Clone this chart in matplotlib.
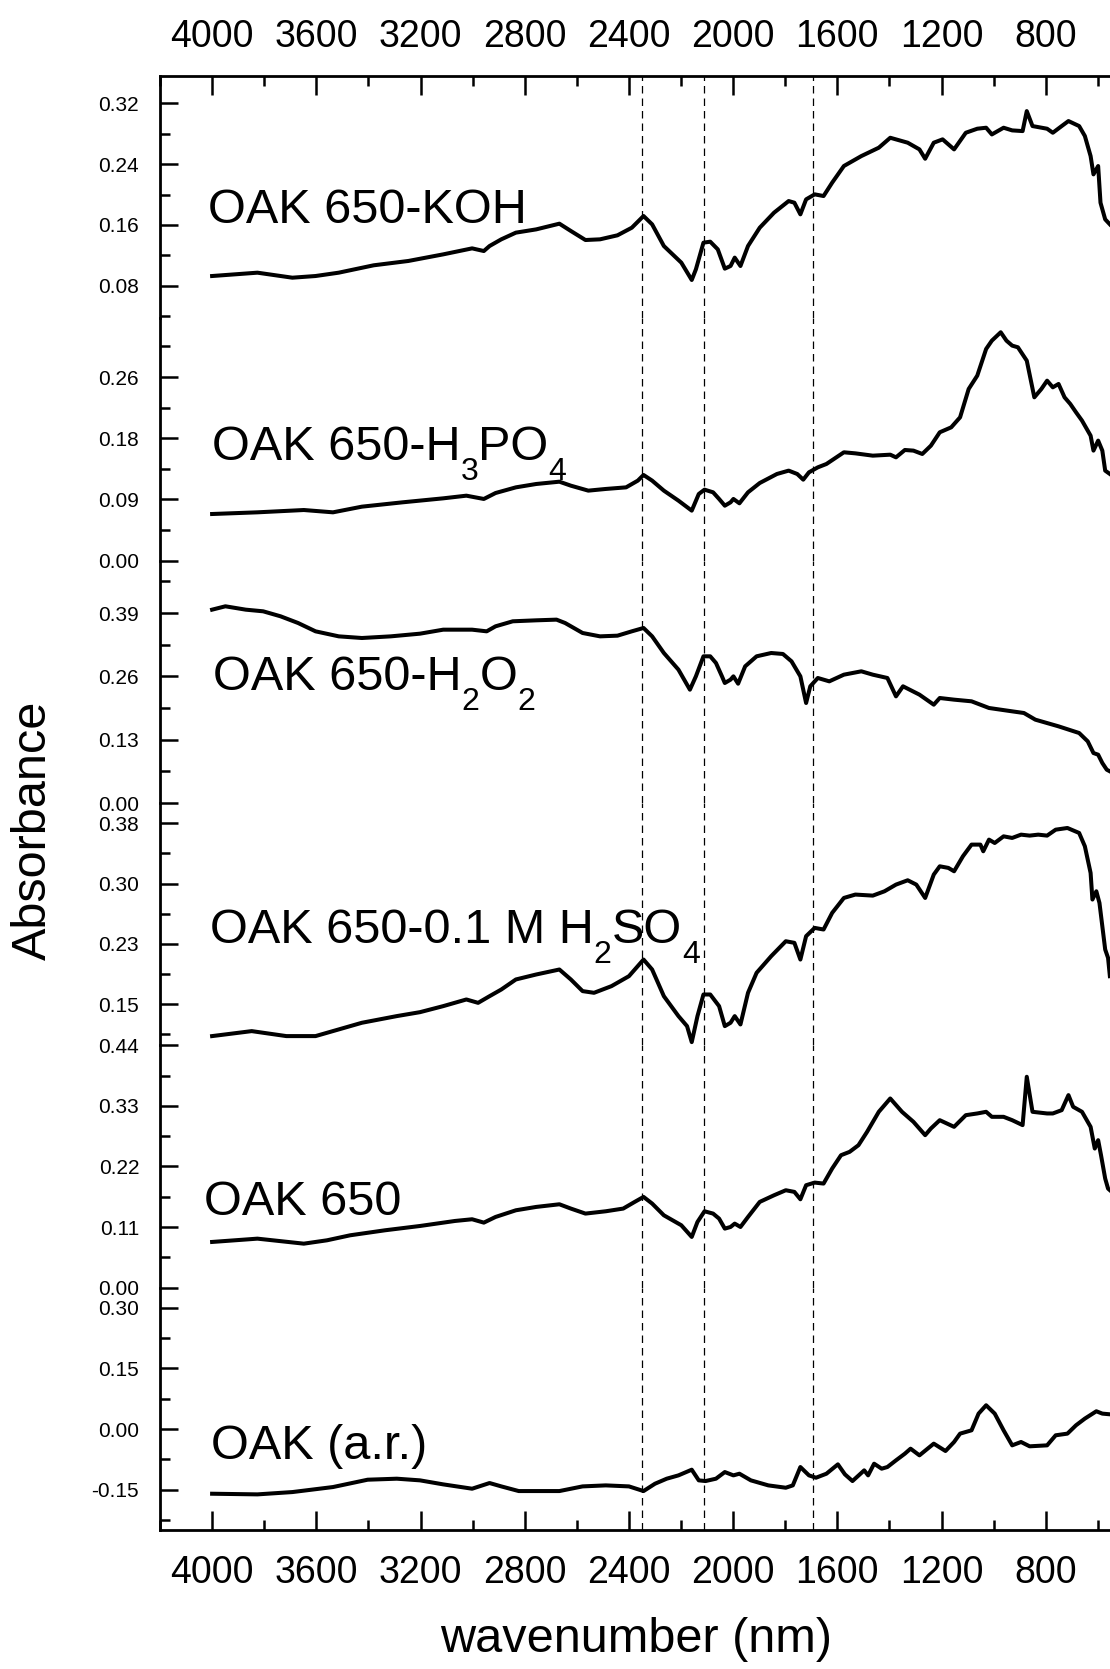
import matplotlib
matplotlib.use("Agg")
import matplotlib.pyplot as plt
from matplotlib.ticker import FixedLocator

plt.rcParams['font.family'] = ['Liberation Sans', 'DejaVu Sans']

# ---- spectra (wavenumber, absorbance) ----
w_koh = [4000, 3826, 3692, 3603, 3514, 3380, 3247, 3113, 3002, 2957,
         2935, 2890, 2834, 2756, 2667, 2623, 2567, 2511, 2444, 2389,
         2344, 2311, 2266, 2199, 2159, 2143, 2114, 2088, 2059, 2032,
         2010, 1994, 1972, 1943, 1898, 1843, 1787, 1765, 1742, 1720,
         1687, 1653, 1620, 1575, 1508, 1441, 1397, 1330, 1285, 1263,
         1230, 1196, 1152, 1107, 1063, 1029, 1007, 962, 929, 889,
         873, 851, 795, 773, 739, 713, 672, 650, 628, 617,
         599, 590, 572, 554]
a_koh = [0.0927, 0.0971, 0.0905, 0.0927, 0.0971, 0.1068, 0.1125, 0.1212, 0.1291, 0.1256,
         0.1322, 0.1410, 0.1498, 0.1541, 0.1616, 0.1520, 0.1401, 0.1410, 0.1463, 0.1563,
         0.1717, 0.1607, 0.1322, 0.1103, 0.0875, 0.1015, 0.1366, 0.1379, 0.1278, 0.1024,
         0.1059, 0.1169, 0.1059, 0.1322, 0.1563, 0.1761, 0.1914, 0.1892, 0.1739, 0.1936,
         0.2002, 0.1980, 0.2156, 0.2375, 0.2506, 0.2616, 0.2747, 0.2682, 0.2594, 0.2471,
         0.2682, 0.2726, 0.2594, 0.2813, 0.2866, 0.2879, 0.2791, 0.2879, 0.2844, 0.2835,
         0.3098, 0.2901, 0.2866, 0.2813, 0.2901, 0.2967, 0.2901, 0.2770, 0.2506, 0.2265,
         0.2375, 0.1892, 0.1673, 0.1607]

w_h3po4 = [4000, 3826, 3648, 3536, 3425, 3269, 3113, 3024, 2957, 2912,
           2834, 2756, 2667, 2623, 2556, 2489, 2411, 2366, 2344, 2311,
           2266, 2210, 2159, 2132, 2110, 2077, 2054, 2032, 2010, 1999,
           1976, 1943, 1898, 1832, 1787, 1754, 1731, 1709, 1675, 1642,
           1575, 1531, 1464, 1397, 1375, 1341, 1308, 1274, 1241, 1207,
           1163, 1129, 1096, 1063, 1029, 1007, 973, 951, 929, 907,
           873, 844, 817, 795, 773, 751, 728, 706, 684, 661,
           628, 617, 599, 583, 572, 554]
a_h3po4 = [0.0667, 0.0691, 0.0724, 0.0691, 0.0772, 0.0834, 0.0891, 0.0929, 0.0882, 0.0967,
           0.1048, 0.1096, 0.1129, 0.1072, 0.1001, 0.1025, 0.1048, 0.1144, 0.1225, 0.1144,
           0.1001, 0.0858, 0.0715, 0.0953, 0.1015, 0.0977, 0.0882, 0.0786, 0.0834, 0.0882,
           0.0820, 0.0977, 0.1110, 0.1239, 0.1287, 0.1239, 0.1158, 0.1263, 0.1334, 0.1382,
           0.1549, 0.1534, 0.1501, 0.1515, 0.1477, 0.1582, 0.1573, 0.1525, 0.1644, 0.1835,
           0.1906, 0.2049, 0.2454, 0.2645, 0.3026, 0.3145, 0.3265, 0.3145, 0.3074, 0.3050,
           0.2859, 0.2335, 0.2454, 0.2573, 0.2478, 0.2526, 0.2335, 0.2240, 0.2121, 0.2002,
           0.1787, 0.1573, 0.1716, 0.1573, 0.1287, 0.1239]

w_h2o2 = [4000, 3949, 3871, 3804, 3737, 3670, 3603, 3514, 3425, 3314,
          3202, 3113, 3002, 2946, 2912, 2846, 2756, 2678, 2645, 2578,
          2511, 2444, 2389, 2344, 2311, 2266, 2210, 2166, 2143, 2114,
          2088, 2066, 2043, 2032, 2010, 1999, 1981, 1954, 1910, 1854,
          1809, 1776, 1742, 1720, 1704, 1675, 1631, 1575, 1508, 1464,
          1408, 1375, 1348, 1285, 1230, 1207, 1152, 1085, 1018, 929,
          884, 840, 751, 672, 639, 617, 599, 583, 566, 554]
a_h2o2 = [0.3970, 0.4039, 0.3970, 0.3936, 0.3833, 0.3696, 0.3525, 0.3422, 0.3388, 0.3422,
          0.3477, 0.3559, 0.3559, 0.3525, 0.3628, 0.3731, 0.3751, 0.3765, 0.3696, 0.3491,
          0.3422, 0.3436, 0.3525, 0.3594, 0.3422, 0.3080, 0.2738, 0.2327, 0.2601, 0.3012,
          0.3012, 0.2875, 0.2601, 0.2464, 0.2533, 0.2601, 0.2450, 0.2806, 0.3012, 0.3080,
          0.3060, 0.2909, 0.2601, 0.2053, 0.2396, 0.2567, 0.2498, 0.2635, 0.2704, 0.2635,
          0.2567, 0.2190, 0.2396, 0.2225, 0.2019, 0.2156, 0.2122, 0.2088, 0.1951, 0.1882,
          0.1848, 0.1711, 0.1574, 0.1437, 0.1266, 0.1026, 0.0992, 0.0821, 0.0684, 0.0650]

w_h2so4 = [4000, 3848, 3715, 3603, 3514, 3425, 3291, 3202, 3113, 3024,
           2979, 2935, 2890, 2834, 2756, 2667, 2623, 2578, 2534, 2467,
           2400, 2344, 2311, 2266, 2210, 2177, 2159, 2137, 2114, 2088,
           2054, 2032, 2010, 1994, 1972, 1943, 1910, 1854, 1798, 1765,
           1742, 1720, 1687, 1653, 1620, 1575, 1531, 1464, 1419, 1375,
           1330, 1297, 1263, 1230, 1207, 1174, 1152, 1118, 1085, 1051,
           1040, 1018, 996, 962, 929, 895, 862, 829, 795, 762,
           717, 672, 650, 628, 621, 606, 594, 572, 561, 554]
a_h2so4 = [0.1101, 0.1163, 0.1101, 0.1101, 0.1184, 0.1267, 0.1350, 0.1399, 0.1474, 0.1557,
           0.1515, 0.1598, 0.1681, 0.1806, 0.1868, 0.1930, 0.1806, 0.1661, 0.1640, 0.1723,
           0.1847, 0.2054, 0.1930, 0.1598, 0.1350, 0.1225, 0.1026, 0.1350, 0.1619, 0.1619,
           0.1474, 0.1225, 0.1267, 0.1350, 0.1246, 0.1640, 0.1889, 0.2096, 0.2282, 0.2262,
           0.2054, 0.2345, 0.2448, 0.2428, 0.2635, 0.2821, 0.2863, 0.2850, 0.2904, 0.2987,
           0.3041, 0.2987, 0.2821, 0.3112, 0.3215, 0.3195, 0.3153, 0.3340, 0.3485, 0.3485,
           0.3402, 0.3547, 0.3505, 0.3588, 0.3568, 0.3609, 0.3597, 0.3609, 0.3597, 0.3671,
           0.3692, 0.3630, 0.3464, 0.3132, 0.2801, 0.2904, 0.2759, 0.2179, 0.2075, 0.1847]

w_oak650 = [4000, 3826, 3648, 3559, 3470, 3336, 3202, 3068, 3002, 2957,
            2912, 2834, 2756, 2667, 2623, 2567, 2489, 2422, 2378, 2344,
            2311, 2266, 2199, 2159, 2137, 2110, 2077, 2054, 2032, 2010,
            1994, 1972, 1943, 1898, 1843, 1798, 1765, 1742, 1720, 1687,
            1653, 1620, 1586, 1553, 1519, 1486, 1441, 1397, 1352, 1308,
            1263, 1241, 1207, 1152, 1107, 1063, 1029, 1007, 962, 929,
            889, 873, 851, 795, 773, 739, 713, 695, 661, 628,
            612, 599, 588, 572, 561, 554]
a_oak650 = [0.0830, 0.0890, 0.0799, 0.0860, 0.0951, 0.1042, 0.1120, 0.1211, 0.1242, 0.1181,
            0.1284, 0.1405, 0.1466, 0.1514, 0.1436, 0.1345, 0.1387, 0.1436, 0.1557, 0.1648,
            0.1527, 0.1314, 0.1133, 0.0921, 0.1193, 0.1387, 0.1345, 0.1254, 0.1072, 0.1102,
            0.1163, 0.1102, 0.1284, 0.1557, 0.1678, 0.1769, 0.1739, 0.1605, 0.1860, 0.1908,
            0.1890, 0.2163, 0.2405, 0.2466, 0.2587, 0.2829, 0.3193, 0.3435, 0.3193, 0.3011,
            0.2769, 0.2890, 0.3041, 0.2920, 0.3132, 0.3163, 0.3193, 0.3102, 0.3102, 0.3041,
            0.2951, 0.3829, 0.3193, 0.3163, 0.3163, 0.3223, 0.3496, 0.3284, 0.3193, 0.2920,
            0.2526, 0.2678, 0.2405, 0.1981, 0.1799, 0.1770]

w_raw = [4000, 3826, 3692, 3536, 3403, 3291, 3202, 3113, 3002, 2935,
         2890, 2823, 2667, 2578, 2489, 2400, 2344, 2300, 2255, 2210,
         2159, 2132, 2106, 2066, 2032, 1999, 1976, 1932, 1865, 1798,
         1771, 1742, 1709, 1682, 1642, 1598, 1571, 1542, 1497, 1482,
         1459, 1430, 1408, 1375, 1341, 1319, 1285, 1230, 1185, 1152,
         1129, 1085, 1058, 1029, 996, 962, 929, 895, 862, 795,
         762, 717, 684, 650, 606, 583, 554]
a_raw = [-0.1595, -0.1611, -0.1554, -0.1430, -0.1249, -0.1224, -0.1265, -0.1364, -0.1471, -0.1331,
         -0.1414, -0.1529, -0.1529, -0.1414, -0.1389, -0.1414, -0.1529, -0.1348, -0.1224, -0.1142,
         -0.1002, -0.1265, -0.1282, -0.1224, -0.1060, -0.1142, -0.1101, -0.1265, -0.1389, -0.1447,
         -0.1389, -0.0936, -0.1142, -0.1200, -0.1101, -0.0870, -0.1117, -0.1282, -0.1018, -0.1142,
         -0.0854, -0.0977, -0.0936, -0.0771, -0.0607, -0.0483, -0.0648, -0.0359, -0.0541, -0.0318,
         -0.0112, -0.0030, 0.0382, 0.0588, 0.0382, -0.0030, -0.0401, -0.0318, -0.0425, -0.0401,
         -0.0153, -0.0112, 0.0094, 0.0259, 0.0440, 0.0382, 0.0365]

# reference band positions (dashed lines)
band_w = [2350, 2110, 1693]

# wavenumber ticks
x_major = [4000, 3600, 3200, 2800, 2400, 2000, 1600, 1200, 800]
x_minor = [4200, 3800, 3400, 3000, 2600, 2200, 1800, 1400, 1000, 600]

# per-panel y axes: limits, major ticks, tick labels, minor ticks
ylims = [(0.037, 0.356), (0.0, 0.3464), (0.0, 0.4976),
         (0.0986, 0.4003), (0.0, 0.44), (-0.249, 0.349)]
ymajor = [[0.08, 0.16, 0.24, 0.32],
          [0.0, 0.0875, 0.175, 0.2625],
          [0.0, 0.13, 0.26, 0.39],
          [0.15, 0.225, 0.30, 0.375],
          [0.0, 0.11, 0.22, 0.33, 0.44],
          [-0.15, 0.0, 0.15, 0.30]]
ylabels = [["0.08", "0.16", "0.24", "0.32"],
           ["0.00", "0.09", "0.18", "0.26"],
           ["0.00", "0.13", "0.26", "0.39"],
           ["0.15", "0.23", "0.30", "0.38"],
           ["0.00", "0.11", "0.22", "0.33", "0.44"],
           ["-0.15", "0.00", "0.15", "0.30"]]
yminor = [[0.04, 0.12, 0.20, 0.28],
          [0.04375, 0.13125, 0.21875, 0.30625],
          [0.065, 0.195, 0.325, 0.455],
          [0.1125, 0.1875, 0.2625, 0.3375],
          [0.055, 0.165, 0.275, 0.385],
          [-0.225, -0.075, 0.075, 0.225]]

# sample names, (text, is_subscript) pieces
names = [[("OAK 650-KOH", False)],
         [("OAK 650-H", False), ("3", True), ("PO", False), ("4", True)],
         [("OAK 650-H", False), ("2", True), ("O", False), ("2", True)],
         [("OAK 650-0.1 M H", False), ("2", True), ("SO", False), ("4", True)],
         [("OAK 650", False)],
         [("OAK (a.r.)", False)]]
name_pos = [(208, 223), (212, 460), (213, 690), (210, 943), (204, 1215), (211, 1459)]

series = [(w_koh, a_koh), (w_h3po4, a_h3po4), (w_h2o2, a_h2o2),
          (w_h2so4, a_h2so4), (w_oak650, a_oak650), (w_raw, a_raw)]

W, H = 1110, 1669
fig = plt.figure(figsize=(W / 100, H / 100), dpi=100)

left = 160 / W
width = (1150 - 160) / W
top = 1 - 76 / H
bottom = 1 - 1530 / H
ph = (top - bottom) / 6

for i, (wv, av) in enumerate(series):
    ax = fig.add_axes([left, top - (i + 1) * ph, width, ph])
    ax.patch.set_alpha(0)
    ax.plot(wv, av, color='black', lw=2.9, solid_joinstyle='round')
    for b in band_w:
        ax.axvline(b, color='black', lw=0.9, dashes=(6, 4))
    ax.set_xlim(4200, 400)
    ax.set_ylim(*ylims[i])

    ax.yaxis.set_major_locator(FixedLocator(ymajor[i]))
    ax.set_yticklabels(ylabels[i])
    ax.yaxis.set_minor_locator(FixedLocator(yminor[i]))
    ax.tick_params(axis='y', which='both', direction='in', right=False,
                   width=1.8, labelsize=15, pad=15)
    ax.tick_params(axis='y', which='major', length=13)
    ax.tick_params(axis='y', which='minor', length=7)

    ax.xaxis.set_major_locator(FixedLocator(x_major))
    ax.xaxis.set_minor_locator(FixedLocator(x_minor))
    if i == 0:
        ax.tick_params(axis='x', which='both', direction='in', top=True, bottom=False,
                       labeltop=True, labelbottom=False, width=1.8, labelsize=27, pad=15)
    elif i == 5:
        ax.tick_params(axis='x', which='both', direction='in', top=False, bottom=True,
                       labeltop=False, labelbottom=True, width=1.8, labelsize=27, pad=18)
    else:
        ax.tick_params(axis='x', which='both', top=False, bottom=False,
                       labeltop=False, labelbottom=False)
    ax.tick_params(axis='x', which='major', length=13.5)
    ax.tick_params(axis='x', which='minor', length=7)

    for side in ['left', 'top', 'bottom', 'right']:
        ax.spines[side].set_linewidth(2)
    ax.spines['right'].set_visible(False)
    ax.spines['top'].set_visible(i == 0)
    ax.spines['bottom'].set_visible(i == 5)

fig.text(33 / W, 1 - 830 / H, 'Absorbance', rotation=90, fontsize=35,
         ha='center', va='center')
fig.text(636 / W, 1 - 1639 / H, 'wavenumber (nm)', fontsize=35,
         ha='center', va='center')

# sample labels with lowered subscripts
renderer = fig.canvas.get_renderer()
for parts, (x0, y0) in zip(names, name_pos):
    x = x0
    for s, sub in parts:
        size = 23 if sub else 35
        yy = y0 + (20 if sub else 0)
        t = fig.text(x / W, 1 - yy / H, s, fontsize=size, ha='left', va='baseline')
        x += t.get_window_extent(renderer).width

fig.savefig('out.png', dpi=100)
